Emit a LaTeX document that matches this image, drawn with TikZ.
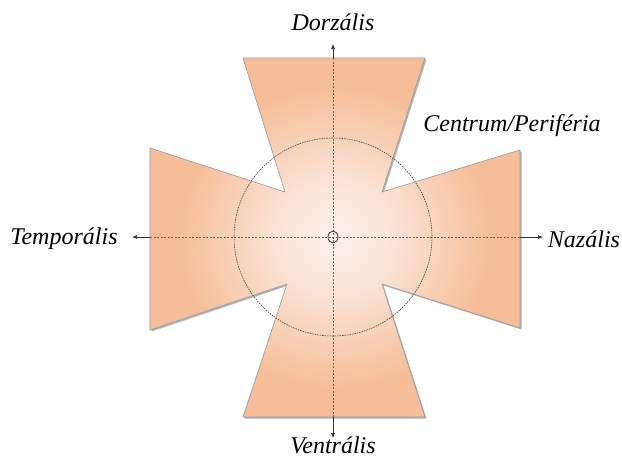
\documentclass[tikz,border=0pt]{standalone}
\usepackage{fontspec}
\setmainfont{Liberation Serif}
\usepackage{tikz}
\usetikzlibrary{arrows.meta,shadows}
\definecolor{peach}{HTML}{F6BE98}
\definecolor{blush}{HTML}{FDF0EA}
\pgfdeclareradialshading{fieldshade}{\pgfpoint{0bp}{0bp}}{color(0bp)=(blush);
    color(8bp)=(blush!75!peach); color(21bp)=(peach); color(50bp)=(peach)}

\begin{document}
\begin{tikzpicture}[x=1pt,y=-1pt,>={Latex[length=5pt,width=4pt]},
    field/.style={draw=gray!80,line width=0.6pt,shading=fieldshade,
                  drop shadow={shadow xshift=1.5pt,shadow yshift=-1.5pt,opacity=0.6}},
    ring/.style={draw=black!75,line width=0.6pt,dash pattern=on 1.5pt off 1pt},
    axis/.style={draw=black!60,line width=0.6pt,dash pattern=on 2pt off 1.5pt},
    pointer/.style={->,draw=black!80,line width=0.6pt},
    lbl/.style={font=\fontsize{24}{28}\selectfont\itshape,inner sep=3pt}]
    \useasboundingbox (0,0) rectangle (622,459);
    \coordinate (c) at (333,237);
    % the cross-shaped field
    \path[field] (243,58) -- (425,58) -- (382,192) -- (520,150) -- (520,328)
        -- (382,284) -- (425,417) -- (243,417) -- (287,284) -- (150,330)
        -- (150,148) -- (285,192) -- cycle;
    \draw[ring] (c) circle (99);
    % edges of the field on the axes, and the arrow tips
    \coordinate (top) at (333,58);
    \coordinate (bot) at (333,417);
    \coordinate (lft) at (150,237);
    \coordinate (rgt) at (520,237);
    \coordinate (topend) at (333,44);
    \coordinate (botend) at (333,438);
    \coordinate (lftend) at (132,237);
    \coordinate (rgtend) at (543,237);
    \node[lbl] (dors) at (333,22) {Dorzális};
    \node[lbl] (vent) at (333,445) {Ventrális};
    \node[lbl] (temp) at (64,239) {Temporális};
    \node[lbl] (naz) at (584,239) {Nazális};
    \node[lbl] (cp) at (512,126) {Centrum/Periféria};
    \draw[axis] (top) -- (bot);
    \draw[axis] (lft) -- (rgt);
    \draw[pointer] (top) -- (topend);
    \draw[pointer] (bot) -- (botend);
    \draw[pointer] (lft) -- (lftend);
    \draw[pointer] (rgt) -- (rgtend);
    \draw[black!80,line width=0.8pt] (c) ellipse (5 and 6);
\end{tikzpicture}
\end{document}
